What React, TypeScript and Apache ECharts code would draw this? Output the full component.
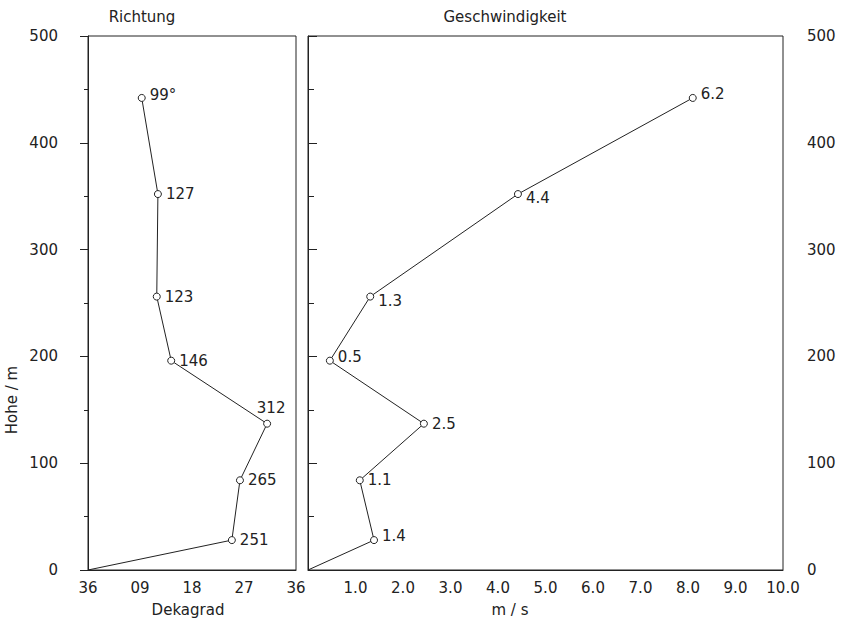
import React, { useEffect, useRef } from "react";
import * as echarts from "echarts";

// Measurement heights (m), bottom to top
const heights = [28, 84, 137, 196, 256, 352, 442];

// Wind direction as plotted (degrees) and as annotated (dekagrad text)
const directions = [249, 263, 310, 144, 119, 121, 93];
const directionLabels = ["251", "265", "312", "146", "123", "127", "99°"];

// Wind speed as plotted (m/s) and as annotated
const speeds = [1.39, 1.09, 2.44, 0.46, 1.31, 4.42, 8.1];
const speedLabels = ["1.4", "1.1", "2.5", "0.5", "1.3", "4.4", "6.2"];

// Tick labels
const directionTicks: Record<number, string> = { 0: "36", 90: "09", 180: "18", 270: "27", 360: "36" };

const FONT = "DejaVu Sans";
const INK = "#222";

export default function App() {
  const ref = useRef<HTMLDivElement>(null);
  useEffect(() => {
    if (!ref.current) return;
    const chart = echarts.init(ref.current, null, { renderer: "svg" });

    const dirData: any[] = [{ value: [0, 0], symbol: "none", label: { show: false } }];
    directions.forEach((d, i) => {
      const item: any = { value: [d, heights[i]], lbl: directionLabels[i] };
      if (directionLabels[i] === "312") {
        item.label = { position: "top", offset: [4, 0] };
      } else if (directionLabels[i] === "99°") {
        item.label = { offset: [0, -3] };
      }
      dirData.push(item);
    });

    const spdData: any[] = [{ value: [0, 0], symbol: "none", label: { show: false } }];
    speeds.forEach((s, i) => {
      const item: any = { value: [s, heights[i]], lbl: speedLabels[i] };
      const l = speedLabels[i];
      if (l === "4.4" || l === "1.3") item.label = { offset: [0, 4] };
      if (l === "0.5" || l === "6.2" || l === "1.4") item.label = { offset: [0, -4] };
      spdData.push(item);
    });

    const axisLine = { show: true, lineStyle: { color: INK, width: 1 } };
    const labelStyle = { color: INK, fontFamily: FONT, fontSize: 15 };

    const seriesCommon = {
      type: "line",
      symbol: "circle",
      symbolSize: 7,
      itemStyle: { color: "#fff", borderColor: INK, borderWidth: 1 },
      lineStyle: { color: INK, width: 1 },
      label: {
        show: true,
        position: "right",
        distance: 4,
        color: INK,
        fontFamily: FONT,
        fontSize: 15,
        formatter: (p: any) => (p.data && p.data.lbl) || "",
      },
      emphasis: { disabled: true },
      z: 5,
    };

    chart.setOption({
      animation: false,
      backgroundColor: "#fff",
      grid: [
        { left: 88, top: 36, width: 208, height: 534, show: true, borderColor: INK, borderWidth: 1 },
        { left: 308, top: 36, width: 475, height: 534, show: true, borderColor: INK, borderWidth: 1 },
      ],
      xAxis: [
        {
          gridIndex: 0,
          type: "value",
          min: 0,
          max: 360,
          interval: 90,
          axisLine,
          axisTick: { show: false },
          splitLine: { show: false },
          axisLabel: { ...labelStyle, margin: 10, formatter: (v: number) => directionTicks[v] ?? "" },
        },
        {
          gridIndex: 1,
          type: "value",
          min: 0,
          max: 10,
          interval: 1,
          axisLine,
          axisTick: { show: false },
          splitLine: { show: false },
          axisLabel: { ...labelStyle, margin: 10, formatter: (v: number) => (v === 0 ? "" : v.toFixed(1)) },
        },
      ],
      yAxis: [
        {
          gridIndex: 0,
          type: "value",
          position: "left",
          min: 0,
          max: 500,
          interval: 100,
          axisLine,
          axisTick: { show: true, length: 8, lineStyle: { color: INK } },
          minorTick: { show: true, splitNumber: 2, length: 4, lineStyle: { color: INK } },
          splitLine: { show: false },
          axisLabel: { ...labelStyle, margin: 30 },
        },
        {
          gridIndex: 1,
          type: "value",
          position: "right",
          min: 0,
          max: 500,
          interval: 100,
          axisLine,
          axisTick: { show: true, length: 9, lineStyle: { color: INK } },
          minorTick: { show: true, splitNumber: 2, length: 6, lineStyle: { color: INK } },
          splitLine: { show: false },
          axisLabel: { ...labelStyle, margin: 24 },
        },
      ],
      series: [
        { ...seriesCommon, name: "Richtung", xAxisIndex: 0, yAxisIndex: 0, data: dirData },
        { ...seriesCommon, name: "Geschwindigkeit", xAxisIndex: 1, yAxisIndex: 1, data: spdData },
      ],
      graphic: [
        { type: "text", x: 142, y: 17, style: { text: "Richtung", ...labelStyle, fill: INK, align: "center", verticalAlign: "middle" } },
        { type: "text", x: 505, y: 17, style: { text: "Geschwindigkeit", ...labelStyle, fill: INK, align: "center", verticalAlign: "middle" } },
        { type: "text", x: 188, y: 610, style: { text: "Dekagrad", ...labelStyle, fill: INK, align: "center", verticalAlign: "middle" } },
        { type: "text", x: 510, y: 610, style: { text: "m / s", ...labelStyle, fill: INK, align: "center", verticalAlign: "middle" } },
        { type: "text", x: 12, y: 400, rotation: Math.PI / 2, style: { text: "Hohe / m", ...labelStyle, fill: INK, align: "center", verticalAlign: "middle" } },
      ],
    });
    return () => chart.dispose();
  }, []);
  return <div ref={ref} style={{ position: "fixed", left: 0, top: 0, width: 843, height: 621 }} />;
}
